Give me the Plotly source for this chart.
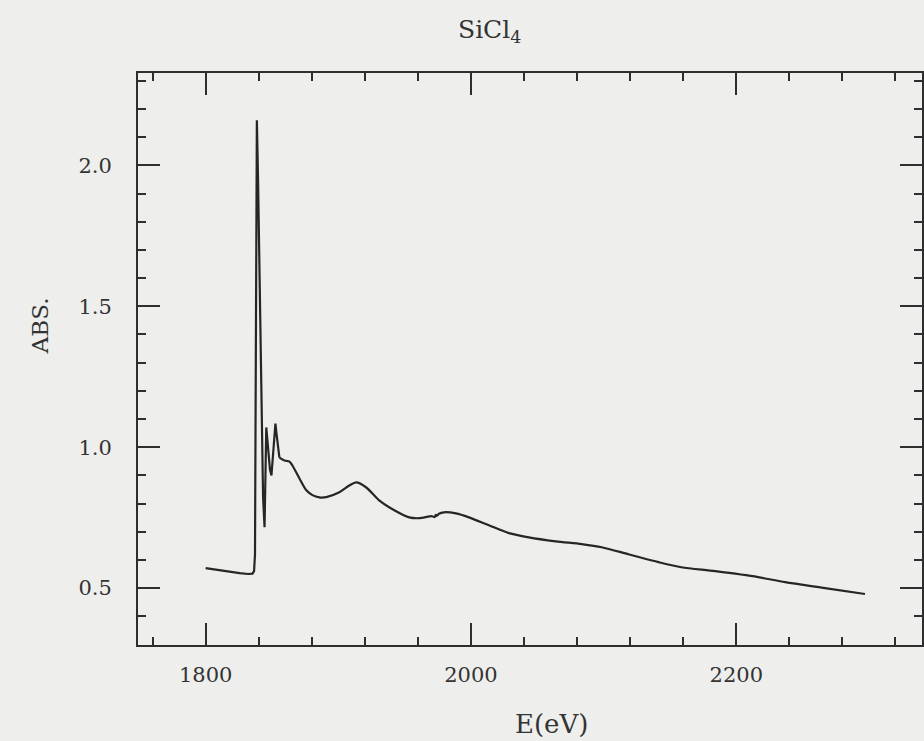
import plotly.graph_objects as go

# Photon energy (eV) and absorbance
energy = [1800.0, 1812.0, 1825.6, 1832.0, 1835.3, 1836.5, 1837.2, 1837.8, 1838.3, 1838.6,
          1839.5, 1840.8, 1842.0, 1843.3, 1844.4, 1845.0, 1845.7, 1847.0, 1848.5, 1849.6,
          1850.6, 1851.8, 1852.6, 1853.6, 1855.6, 1859.4, 1863.2, 1865.4, 1870.7, 1875.9,
          1880.5, 1885.7, 1891.0, 1900.8, 1908.3, 1913.5, 1921.1, 1930.8, 1938.3, 1953.4,
          1960.9, 1970.7, 1972.7, 1973.5, 1974.3, 1975.9, 1979.7, 1988.7, 1998.5, 2013.5,
          2028.6, 2043.6, 2063.9, 2083.5, 2098.5, 2118.8, 2141.4, 2158.6, 2184.2, 2216.5,
          2236.8, 2266.9, 2297.0]
absorb = [0.571, 0.562, 0.553, 0.550, 0.551, 0.560, 0.620, 1.300, 1.950, 2.160,
          1.950, 1.500, 1.100, 0.820, 0.716, 0.850, 1.070, 1.000, 0.920, 0.900,
          0.960, 1.060, 1.084, 1.040, 0.963, 0.953, 0.949, 0.935, 0.889, 0.847,
          0.830, 0.822, 0.823, 0.840, 0.864, 0.875, 0.857, 0.811, 0.787, 0.751,
          0.748, 0.755, 0.752, 0.760, 0.756, 0.764, 0.769, 0.765, 0.751, 0.723,
          0.695, 0.680, 0.666, 0.656, 0.645, 0.620, 0.592, 0.574, 0.560, 0.539,
          0.521, 0.500, 0.479]

x_major = [1800, 2000, 2200]
y_major = [0.5, 1.0, 1.5, 2.0]

title_text = "SiCl<sub>4</sub>"
x_title = "E(eV)"
y_title = "ABS."

FONT = "DejaVu Serif"
INK = "#2e2e2e"
BG = "#eeeeec"
LINE = dict(color="#262626", width=2.2)

# sharp edge region drawn straight, smooth tail drawn as spline (shared joining point)
split = energy.index(1855.6)

fig = go.Figure()
fig.add_trace(go.Scatter(x=energy[:split + 1], y=absorb[:split + 1], mode="lines",
                         line=LINE, hoverinfo="skip", showlegend=False))
fig.add_trace(go.Scatter(x=energy[split:], y=absorb[split:], mode="lines",
                         line=dict(shape="spline", smoothing=0.8, **LINE),
                         hoverinfo="skip", showlegend=False))

axis_common = dict(
    showline=True, linecolor=INK, linewidth=2, mirror="allticks",
    ticks="inside", ticklen=22, tickwidth=2, tickcolor=INK,
    showgrid=False, zeroline=False,
    tickfont=dict(family=FONT, size=21, color="#333333"),
)

fig.update_xaxes(range=[1749, 2340], tickmode="array", tickvals=x_major,
                 ticktext=[str(v) for v in x_major], ticklabelstandoff=10,
                 minor=dict(tick0=1800, dtick=40, ticks="inside", ticklen=8,
                            tickwidth=2, tickcolor=INK, showgrid=False),
                 **axis_common)
fig.update_yaxes(range=[0.298, 2.328], tickmode="array", tickvals=y_major,
                 ticktext=[f"{v:.1f}" for v in y_major], ticklabelstandoff=20,
                 minor=dict(tick0=0.5, dtick=0.1, ticks="inside", ticklen=8,
                            tickwidth=2, tickcolor=INK, showgrid=False),
                 **axis_common)

L, T, W, H = 138, 73, 786, 572
fig.update_layout(
    width=924, height=741,
    margin=dict(l=L, r=924 - L - W, t=T, b=741 - T - H, pad=0),
    paper_bgcolor=BG, plot_bgcolor=BG,
    annotations=[
        dict(text=title_text, xref="paper", yref="paper",
             x=(490 - L) / W, y=(T + H - 31) / H, xanchor="center", yanchor="middle",
             showarrow=False, font=dict(family=FONT, size=25, color="#333333")),
        dict(text=x_title, xref="paper", yref="paper",
             x=(553 - L) / W, y=(T + H - 724) / H, xanchor="center", yanchor="middle",
             showarrow=False, font=dict(family=FONT, size=26, color="#333333")),
        dict(text=y_title, xref="paper", yref="paper", textangle=-90,
             x=(40 - L) / W, y=(T + H - 326) / H, xanchor="center", yanchor="middle",
             showarrow=False, font=dict(family=FONT, size=23, color="#333333")),
    ],
)

fig.write_html("out.html")
